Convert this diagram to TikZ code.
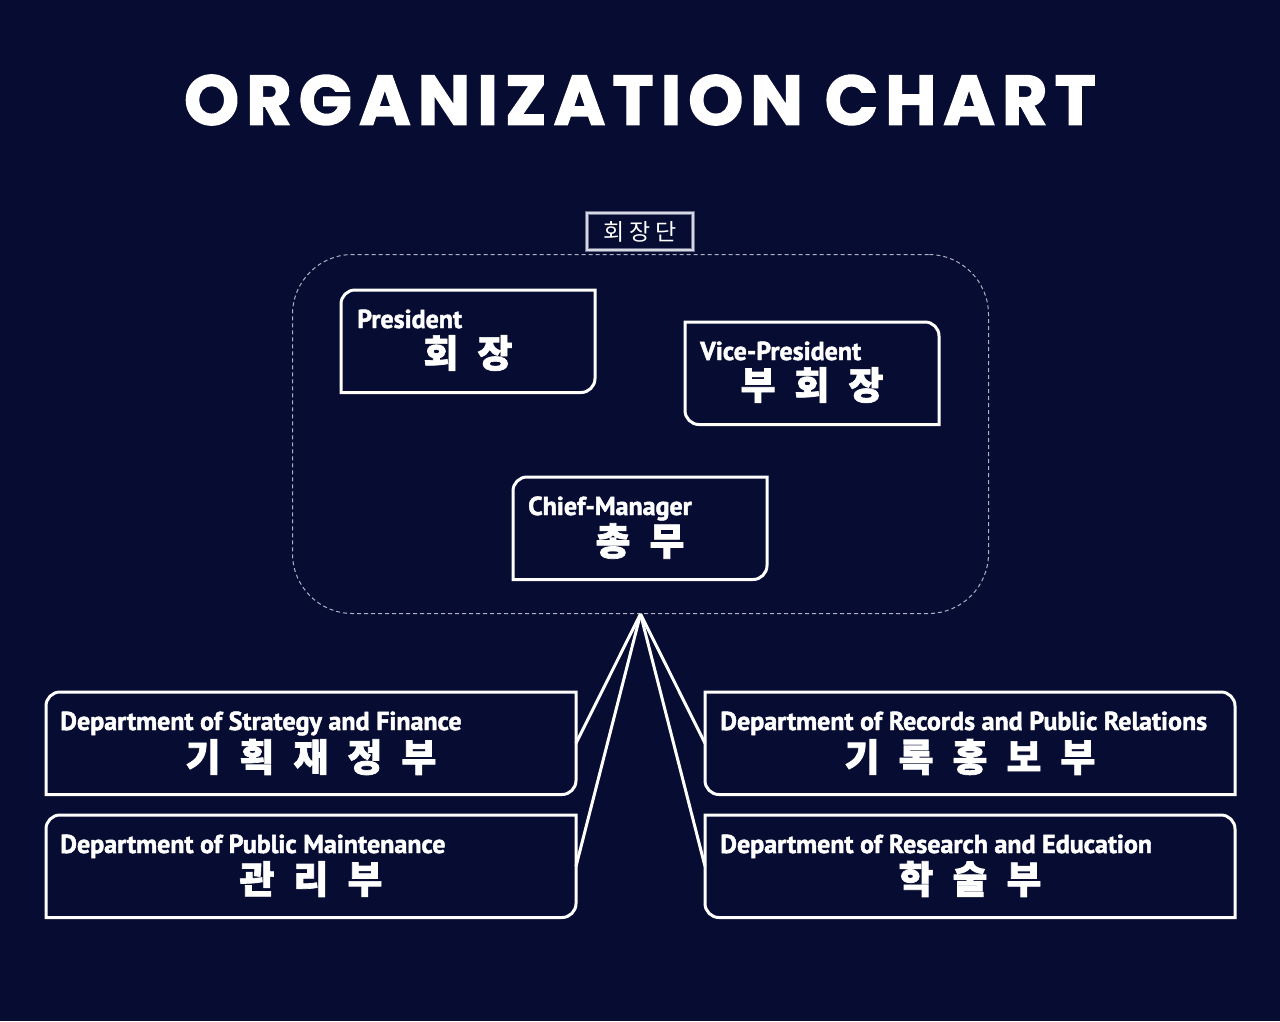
\documentclass[tikz,border=0pt]{standalone}
\usepackage{fontspec}
\setmainfont{PT Sans}
\newfontfamily\enfont{PT Sans}[BoldFeatures={FakeBold=1.8}]
\newfontfamily\titlefont{Poppins}[BoldFeatures={FakeBold=2,LetterSpace=10}]
\newfontfamily\kofont{Noto Sans CJK KR}[BoldFeatures={FakeBold=1.8}]
\newfontfamily\tagfont{Noto Sans CJK KR}
\definecolor{navy}{RGB}{7,12,50}
\definecolor{dashgray}{RGB}{175,178,195}
\definecolor{tagline}{RGB}{215,217,226}
\definecolor{tagglow}{RGB}{110,114,140}
% gap between spaced-out Hangul syllables
\newcommand\ksp{\hspace{0.5em}}
\newcommand\cornerr{14pt}
% outline with rounded top-left and bottom-right corners
\newcommand\outlineTLBR[1]{%
  \draw[boxline] (#1.south west) -- ([yshift=-\cornerr]#1.north west)
    arc[start angle=180,end angle=90,radius=\cornerr] -- (#1.north east)
    -- ([yshift=\cornerr]#1.south east)
    arc[start angle=0,end angle=-90,radius=\cornerr] -- cycle;}
% outline with rounded top-right and bottom-left corners
\newcommand\outlineTRBL[1]{%
  \draw[boxline] (#1.north west) -- ([xshift=-\cornerr]#1.north east)
    arc[start angle=90,end angle=0,radius=\cornerr] -- (#1.south east)
    -- ([xshift=\cornerr]#1.south west)
    arc[start angle=270,end angle=180,radius=\cornerr] -- cycle;}
\begin{document}
\begin{tikzpicture}[x=1pt,y=-1pt,
  orgbox/.style={inner sep=0pt,outer sep=0pt,anchor=north west,minimum height=102.5pt},
  boxline/.style={draw=white,line width=3pt},
  entext/.style={text=white,inner sep=0pt,anchor=base west,font=\enfont\bfseries\fontsize{26}{26}\selectfont},
  kotext/.style={text=white,inner sep=0pt,font=\kofont\bfseries\fontsize{38}{38}\selectfont},
  wire/.style={draw=white,line width=3pt},
]
% canvas
\fill[navy] (0,0) rectangle (1280,1021);
\useasboundingbox (0,0) rectangle (1280,1021);

% heading
\node[text=white,font=\titlefont\bfseries\fontsize{70}{70}\selectfont] (title) at (640,100) {ORGANIZATION CHART};

% executive board group
\node[draw=dashgray,dash pattern=on 4pt off 3pt,line width=1pt,rounded corners=60pt,
      minimum width=696pt,minimum height=359pt,anchor=north west,inner sep=0pt] (board) at (292,254) {};
\node[draw=tagglow,line width=4.5pt,minimum width=106pt,minimum height=37pt,inner sep=0pt] (boardglow) at (640,231.5) {};
\node[draw=tagline,line width=2pt,minimum width=106pt,minimum height=37pt,inner sep=0pt,
      text=white,font=\tagfont\fontsize{23}{23}\selectfont] (boardtag) at (640,231.5) {회\hspace{0.2em}장\hspace{0.2em}단};

% executive positions
\node[orgbox,minimum width=254pt] (pres) at (341,290) {};
\outlineTLBR{pres}
\node[entext] (presen) at ([xshift=16pt,yshift=-38pt]pres.north west) {President};
\node[kotext] (presko) at ([yshift=-63pt]pres.north) {회\ksp 장};

\node[orgbox,minimum width=254pt] (vice) at (685,322) {};
\outlineTRBL{vice}
\node[entext] (viceen) at ([xshift=15pt,yshift=-38pt]vice.north west) {Vice-President};
\node[kotext] (viceko) at ([yshift=-63pt]vice.north) {부\ksp 회\ksp 장};

\node[orgbox,minimum width=254pt] (chief) at (513,477) {};
\outlineTLBR{chief}
\node[entext] (chiefen) at ([xshift=15pt,yshift=-38pt]chief.north west) {Chief-Manager};
\node[kotext] (chiefko) at ([yshift=-64pt]chief.north) {총\ksp 무};

% departments
\node[orgbox,minimum width=530pt] (strat) at (46,692) {};
\outlineTLBR{strat}
\node[entext] (straten) at ([xshift=14pt,yshift=-38pt]strat.north west) {Department of Strategy and Finance};
\node[kotext] (stratko) at ([yshift=-65pt]strat.north) {기\ksp 획\ksp 재\ksp 정\ksp 부};

\node[orgbox,minimum width=530pt] (maint) at (46,815) {};
\outlineTLBR{maint}
\node[entext] (mainten) at ([xshift=14pt,yshift=-38pt]maint.north west) {Department of Public Maintenance};
\node[kotext] (maintko) at ([yshift=-64pt]maint.north) {관\ksp 리\ksp 부};

\node[orgbox,minimum width=530pt] (rec) at (705,692) {};
\outlineTRBL{rec}
\node[entext] (recen) at ([xshift=15pt,yshift=-38pt]rec.north west) {Department of Records and Public Relations};
\node[kotext] (recko) at ([yshift=-65pt]rec.north) {기\ksp 록\ksp 홍\ksp 보\ksp 부};

\node[orgbox,minimum width=530pt] (res) at (705,815) {};
\outlineTRBL{res}
\node[entext] (resen) at ([xshift=15pt,yshift=-38pt]res.north west) {Department of Research and Education};
\node[kotext] (resko) at ([yshift=-64pt]res.north) {학\ksp 술\ksp 부};

% reporting lines
\draw[wire] (board.south) -- (strat.east);
\draw[wire] (board.south) -- (maint.east);
\draw[wire] (board.south) -- (rec.west);
\draw[wire] (board.south) -- (res.west);
\end{tikzpicture}
\end{document}
